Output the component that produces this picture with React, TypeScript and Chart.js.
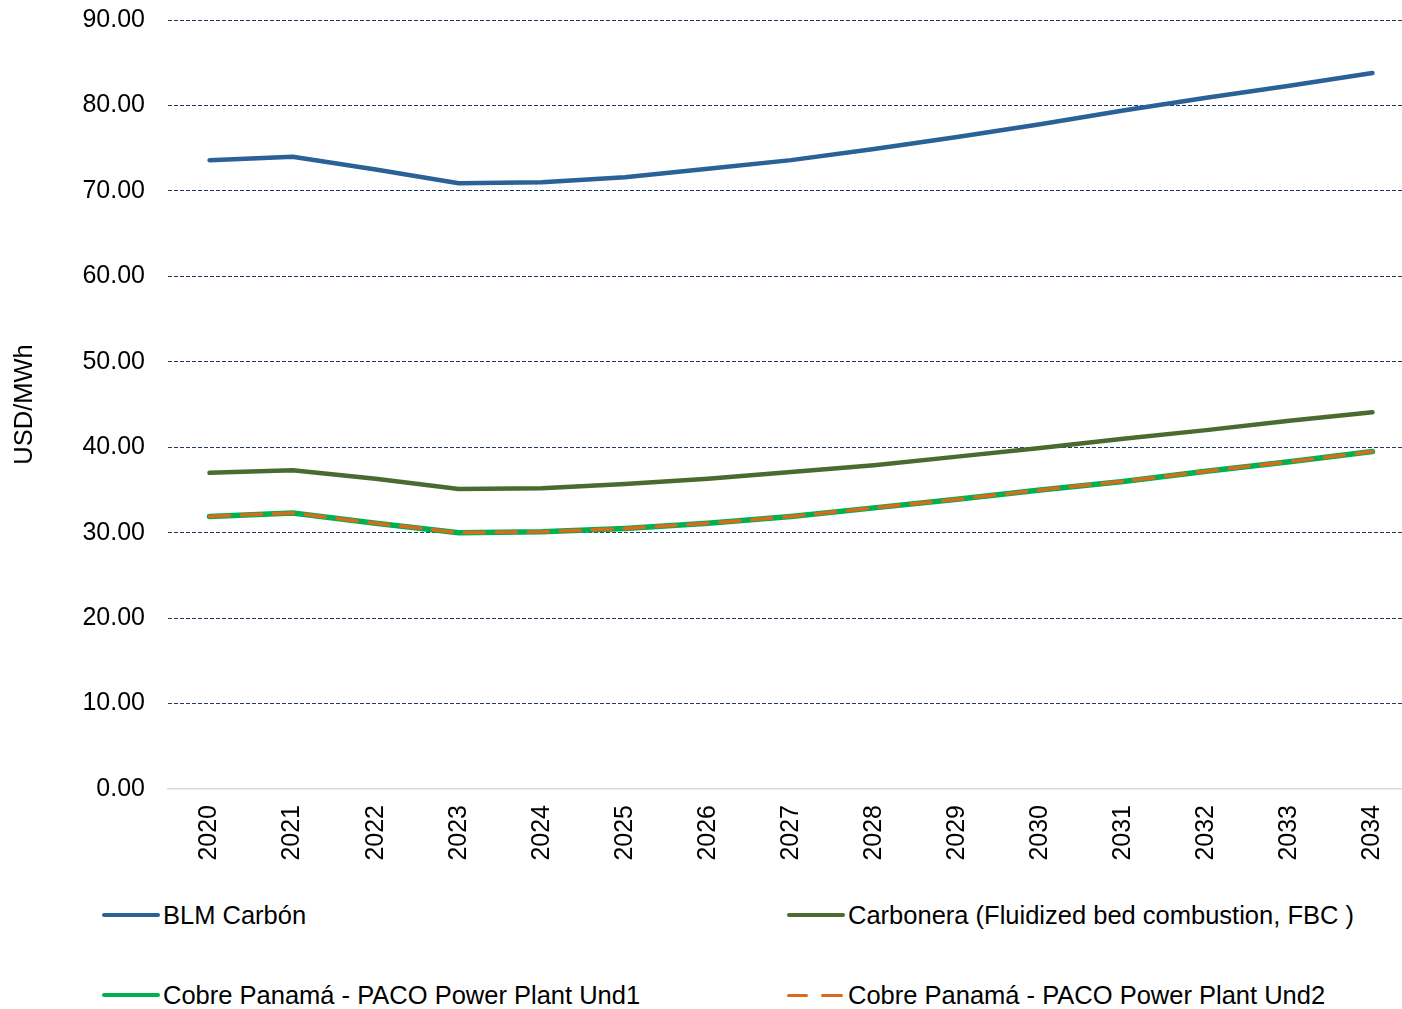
import React, { useEffect, useRef } from "react";
import { Chart, registerables } from "chart.js";

Chart.register(...registerables);

const years = ["2020", "2021", "2022", "2023", "2024", "2025", "2026", "2027", "2028", "2029", "2030", "2031", "2032", "2033", "2034"];
const blmCarbon = [73.6, 74.0, 72.5, 70.9, 71.0, 71.6, 72.6, 73.6, 74.9, 76.3, 77.8, 79.4, 80.9, 82.3, 83.8];
const carbonera = [37.0, 37.3, 36.3, 35.1, 35.2, 35.7, 36.3, 37.1, 37.9, 38.9, 39.9, 41.0, 42.0, 43.1, 44.1];
const cobreUnd1 = [31.9, 32.3, 31.1, 30.0, 30.1, 30.5, 31.1, 31.9, 32.9, 33.9, 35.0, 36.0, 37.2, 38.3, 39.5];
const cobreUnd2 = [31.9, 32.3, 31.1, 30.0, 30.1, 30.5, 31.1, 31.9, 32.9, 33.9, 35.0, 36.0, 37.2, 38.3, 39.5];
const seriesNames = [
  "BLM Carbón",
  "Carbonera (Fluidized bed combustion, FBC )",
  "Cobre Panamá - PACO Power Plant Und1",
  "Cobre Panamá - PACO Power Plant Und2",
];
const yTicks = [0, 10, 20, 30, 40, 50, 60, 70, 80, 90];

const FONT = "'Liberation Sans', Arial, sans-serif";
const C_BLUE = "#2A6196";
const C_OLIVE = "#4A6B2F";
const C_GREEN = "#00B050";
const C_ORANGE = "#DB6A1B";
const GRID = "#1F3864";

const CANVAS_W = 1414;
const CANVAS_H = 900;
const PLOT_LEFT = 168;
const PLOT_TOP = 20;
const PLOT_BOTTOM = 789;

export default function App() {
  const ref = useRef<HTMLCanvasElement | null>(null);

  useEffect(() => {
    if (!ref.current) return;
    const chart = new Chart(ref.current, {
      type: "line",
      data: {
        labels: years,
        datasets: [
          { label: seriesNames[0], data: blmCarbon, borderColor: C_BLUE, borderWidth: 4.5, order: 3 },
          { label: seriesNames[1], data: carbonera, borderColor: C_OLIVE, borderWidth: 4.5, order: 2 },
          { label: seriesNames[2], data: cobreUnd1, borderColor: C_GREEN, borderWidth: 5.5, order: 1 },
          { label: seriesNames[3], data: cobreUnd2, borderColor: C_ORANGE, borderWidth: 3.5, borderDash: [20, 12], order: 0 },
        ].map((d) => ({
          ...d,
          backgroundColor: d.borderColor,
          pointRadius: 0,
          pointHoverRadius: 0,
          tension: 0,
          fill: false,
          borderCapStyle: "round" as const,
          borderJoinStyle: "round" as const,
        })),
      },
      options: {
        responsive: false,
        animation: false,
        devicePixelRatio: 1,
        layout: { padding: { top: PLOT_TOP, right: 0, left: 0, bottom: 0 } },
        plugins: {
          legend: { display: false },
          tooltip: { enabled: false },
        },
        scales: {
          x: {
            type: "category",
            offset: true,
            grid: { display: false, drawTicks: false },
            border: { display: true, color: "#D9D9D9", width: 1.5 },
            ticks: {
              color: "#000",
              font: { family: FONT, size: 25 },
              minRotation: 90,
              maxRotation: 90,
              padding: 16,
              autoSkip: false,
            },
            afterFit: (s: any) => {
              s.height = CANVAS_H - PLOT_BOTTOM;
              s.paddingLeft = 0;
              s.paddingRight = 0;
            },
          },
          y: {
            min: 0,
            max: 90,
            afterBuildTicks: (s: any) => {
              s.ticks = yTicks.map((v) => ({ value: v }));
            },
            grid: {
              drawTicks: false,
              color: (ctx: any) => (ctx.tick && ctx.tick.value === 0 ? "rgba(0,0,0,0)" : GRID),
              lineWidth: 1,
            },
            border: { display: false, dash: [4, 2] },
            ticks: {
              color: "#000",
              font: { family: FONT, size: 25 },
              padding: 23,
              callback: (v: any) => Number(v).toFixed(2),
            },
            title: {
              display: true,
              text: "USD/MWh",
              color: "#000",
              font: { family: FONT, size: 25.5 },
              padding: { top: 10, bottom: 0 },
            },
            afterFit: (s: any) => {
              s.width = PLOT_LEFT;
              s.paddingTop = 0;
              s.paddingBottom = 0;
            },
          },
        },
      },
    });
    return () => chart.destroy();
  }, []);

  const legendText: React.CSSProperties = {
    position: "absolute",
    fontFamily: FONT,
    fontSize: 25.5,
    color: "#000",
    whiteSpace: "nowrap",
    lineHeight: "30px",
  };
  const swatch = (left: number, top: number, color: string): React.CSSProperties => ({
    position: "absolute",
    left,
    top,
    width: 58,
    height: 4,
    borderRadius: 2,
    background: color,
  });

  return (
    <div
      style={{
        position: "fixed",
        left: 0,
        top: 0,
        width: 1402,
        height: 1009,
        overflow: "hidden",
        background: "#fff",
      }}
    >
      <canvas
        ref={ref}
        width={CANVAS_W}
        height={CANVAS_H}
        style={{ position: "absolute", left: 0, top: 0, width: CANVAS_W, height: CANVAS_H }}
      />
      <div style={swatch(102, 913, C_BLUE)} />
      <div style={{ ...legendText, left: 163, top: 900 }}>{seriesNames[0]}</div>
      <div style={swatch(787, 913, C_OLIVE)} />
      <div style={{ ...legendText, left: 848, top: 900 }}>{seriesNames[1]}</div>
      <div style={swatch(102, 993, C_GREEN)} />
      <div style={{ ...legendText, left: 163, top: 980 }}>{seriesNames[2]}</div>
      <div style={{ position: "absolute", left: 787, top: 994, width: 21, height: 3, borderRadius: 1.5, background: C_ORANGE }} />
      <div style={{ position: "absolute", left: 821, top: 994, width: 22, height: 3, borderRadius: 1.5, background: C_ORANGE }} />
      <div style={{ ...legendText, left: 848, top: 980 }}>{seriesNames[3]}</div>
    </div>
  );
}
